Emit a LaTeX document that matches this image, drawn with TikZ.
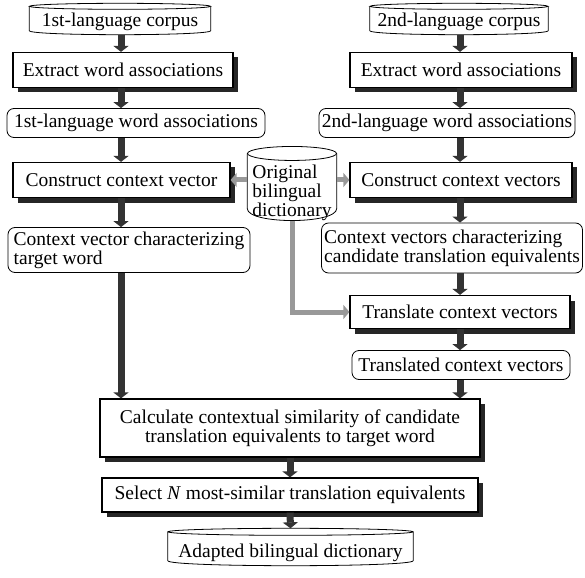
\documentclass[tikz,border=0pt]{standalone}
\usepackage{fontspec}
\setmainfont{Liberation Serif}
\usetikzlibrary{arrows.meta,shadows}

\tikzset{
  every node/.style={font=\fontsize{19.5}{17}\selectfont, inner sep=0pt},
  procbox/.style={draw, line width=1.2pt, fill=white,
    drop shadow={shadow xshift=5pt, shadow yshift=-5pt, opacity=1, fill=black!85}},
  databox/.style={draw, line width=0.8pt, fill=white, rounded corners=7pt},
  store/.style={rectangle},
  storeline/.style={draw, line width=0.8pt},
  flow/.style={draw=black!80, line width=7pt, -{Triangle[width=15pt,length=6pt]}},
  dictflow/.style={draw=black!40, line width=5pt, -{Triangle[width=14pt,length=6pt]}},
}
% outline of a store: node name, half width, top radius, bottom depth
\newcommand\storeline[4]{%
  \draw[storeline] ([yshift=-#3pt]#1.north west) -- ([yshift=#4pt]#1.south west)
    .. controls ([yshift={-#4pt/3}]#1.south west) and ([yshift={-#4pt/3}]#1.south east)
    .. ([yshift=#4pt]#1.south east) -- ([yshift=-#3pt]#1.north east);
  \draw[storeline] ([yshift=-#3pt]#1.north) ellipse [x radius=#2, y radius=#3];
}

\begin{document}
\begin{tikzpicture}[x=1pt, y=-1pt]
  \useasboundingbox (0,0) rectangle (585,577);
  % left column
  \node[store, minimum width=181pt, minimum height=31pt] (corpA) at (120,19) {\rule{0pt}{19pt}1st-language corpus};
  \node[procbox, minimum width=220pt, minimum height=35pt] (extrA) at (123,70) {Extract word associations};
  \node[databox, minimum width=258pt, minimum height=29pt] (assocA) at (136,123) {1st-language word associations};
  \node[procbox, minimum width=217pt, minimum height=35pt] (consA) at (121.5,180) {Construct context vector};
  \node[databox, align=left, minimum width=242pt, minimum height=45pt] (vecA) at (129,250) {Context vector characterizing\\target word};
  % right column
  \node[store, minimum width=178pt, minimum height=31pt] (corpB) at (459,19) {\rule{0pt}{19pt}2nd-language corpus};
  \node[procbox, minimum width=222pt, minimum height=35pt] (extrB) at (461,70) {Extract word associations};
  \node[databox, minimum width=256pt, minimum height=29pt] (assocB) at (447,123) {2nd-language word associations};
  \node[procbox, minimum width=222pt, minimum height=35pt] (consB) at (461,180) {Construct context vectors};
  \node[databox, align=left, minimum width=261pt, minimum height=50pt] (vecB) at (452,248) {Context vectors characterizing\\candidate translation equivalents};
  \node[procbox, minimum width=220pt, minimum height=33pt] (trans) at (460,312) {Translate context vectors};
  \node[databox, minimum width=218pt, minimum height=29pt] (transd) at (461,365) {Translated context vectors};
  % dictionary
  \node[store, align=left, minimum width=89pt, minimum height=73pt] (dict) at (292,183.5) {\rule{0pt}{32pt}Original\\bilingual\\dictionary};
  % bottom
  \node[procbox, align=center, minimum width=380pt, minimum height=58pt] (calc) at (290,428) {Calculate contextual similarity of candidate\\translation equivalents to target word};
  \node[procbox, minimum width=376pt, minimum height=34pt] (sel) at (290,495) {Select \textit{N} most-similar translation equivalents};
  \node[store, minimum width=245pt, minimum height=37pt] (adapt) at (290.5,547) {\rule{0pt}{26pt}Adapted bilingual dictionary};

  \storeline{corpA}{90.5}{3}{4}
  \storeline{corpB}{89}{3}{4}
  \storeline{dict}{44.5}{7}{12}
  \storeline{adapt}{122.5}{3.5}{5}

  \coordinate (colA) at (121,0);
  \coordinate (colB) at (460,0);
  \draw[flow] (colA |- corpA.south) -- (colA |- extrA.north);
  \draw[flow] (colA |- extrA.south) -- (colA |- assocA.north);
  \draw[flow] (colA |- assocA.south) -- (colA |- consA.north);
  \draw[flow] (colA |- consA.south) -- (colA |- vecA.north);
  \draw[flow] (colA |- vecA.south) -- (colA |- calc.north);
  \draw[flow] (colB |- corpB.south) -- (colB |- extrB.north);
  \draw[flow] (colB |- extrB.south) -- (colB |- assocB.north);
  \draw[flow] (colB |- assocB.south) -- (colB |- consB.north);
  \draw[flow] (colB |- consB.south) -- (colB |- vecB.north);
  \draw[flow] (colB |- vecB.south) -- (colB |- trans.north);
  \draw[flow] (colB |- trans.south) -- (colB |- transd.north);
  \draw[flow] (colB |- transd.south) -- (colB |- calc.north);
  \draw[flow] (calc.south) -- (sel.north);
  \draw[flow] (sel.south) -- (adapt.north);

  \draw[dictflow] (dict.west |- consA.east) -- (consA.east);
  \draw[dictflow] (dict.east |- consB.west) -- (consB.west);
  \draw[dictflow] (dict.south) |- (trans.west);
\end{tikzpicture}
\end{document}
